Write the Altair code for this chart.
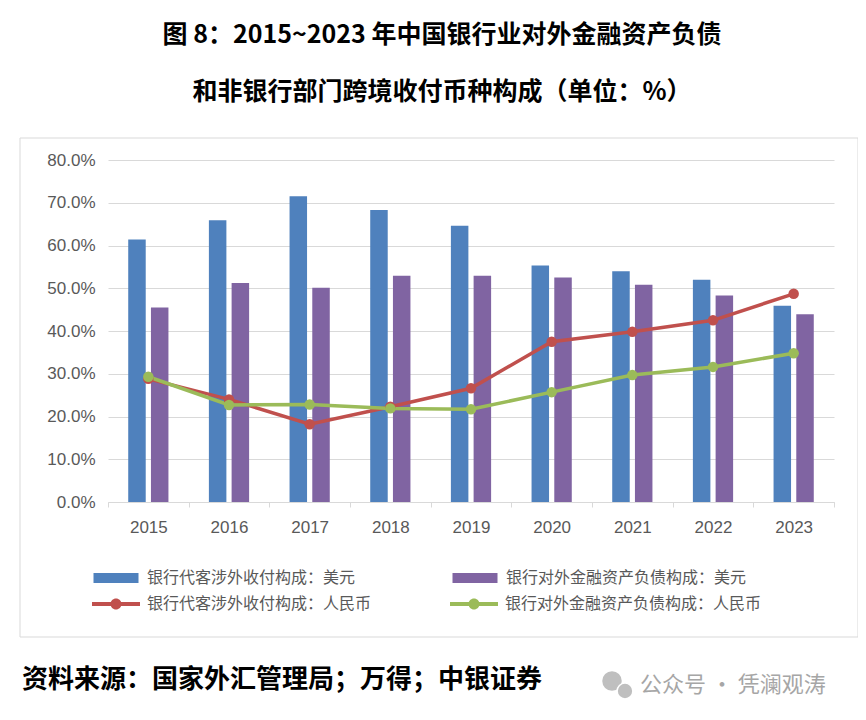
import pandas as pd
import altair as alt

# values (percent)
years = [2015, 2016, 2017, 2018, 2019, 2020, 2021, 2022, 2023]
usd_agent = [61.4, 65.9, 71.5, 68.3, 64.6, 55.3, 54.0, 52.0, 45.9]
usd_bank = [45.5, 51.2, 50.1, 52.9, 52.9, 52.5, 50.8, 48.3, 43.9]
rmb_agent = [28.8, 24.0, 18.2, 22.3, 26.6, 37.5, 39.8, 42.5, 48.7]
rmb_bank = [29.3, 22.7, 22.8, 21.9, 21.7, 25.7, 29.7, 31.6, 34.8]

bar_names = ["银行代客涉外收付构成：美元", "银行对外金融资产负债构成：美元"]
line_names = ["银行代客涉外收付构成：人民币", "银行对外金融资产负债构成：人民币"]
y_ticks = [0, 10, 20, 30, 40, 50, 60, 70, 80]

title_lines = ["图 8：2015~2023 年中国银行业对外金融资产负债",
               "和非银行部门跨境收付币种构成（单位：%）"]
source_text = "资料来源：国家外汇管理局；万得；中银证券"
mark_text = "公众号 · 凭澜观涛"

blue, purple, red, green = "#4f81bd", "#8064a2", "#c0504d", "#9bbb59"
grey_txt = "#595959"
cjk = "Noto Sans CJK SC"

bars = pd.DataFrame({
    "year": years * 2,
    "value": usd_agent + usd_bank,
    "series": [bar_names[0]] * 9 + [bar_names[1]] * 9,
})
lines = pd.DataFrame({
    "year": years * 2,
    "value": rmb_agent + rmb_bank,
    "series": [line_names[0]] * 9 + [line_names[1]] * 9,
})

x_enc = alt.X("year:O", title=None,
              scale=alt.Scale(paddingInner=0, paddingOuter=0),
              axis=alt.Axis(labelAngle=0, tickBand="extent", tickSize=5,
                            tickColor="#d9d9d9", domainColor="#d9d9d9",
                            labelFont="Liberation Sans", labelFontSize=17,
                            labelColor=grey_txt, labelPadding=12, grid=False))
y_enc = alt.Y("value:Q", title=None,
              scale=alt.Scale(domain=[0, 80]),
              axis=alt.Axis(values=y_ticks, domain=False, ticks=False,
                            labelExpr="format(datum.value, '.1f') + '%'",
                            labelFont="Liberation Sans", labelFontSize=17,
                            labelColor=grey_txt, labelPadding=13,
                            gridColor="#d9d9d9", gridWidth=1))

bar_legend = alt.Legend(orient="none", legendX=0, legendY=410,
                        direction="horizontal", columns=2, title=None,
                        symbolType="M-4.5,-1H4.5V1H-4.5Z",
                        symbolSize=100, symbolStrokeWidth=0,
                        labelFont=cjk, labelFontSize=16,
                        labelColor=grey_txt, labelOffset=23,
                        columnPadding=96, labelLimit=400, padding=0)
line_legend = alt.Legend(orient="none", legendX=0, legendY=436,
                         direction="horizontal", columns=2, title=None,
                         symbolType="M-4.8,-0.4H4.8V0.4H-4.8Z M1.1,0A1.1,1.1,0,1,1,-1.1,0A1.1,1.1,0,1,1,1.1,0Z",
                         symbolSize=100, symbolStrokeWidth=0,
                         labelFont=cjk, labelFontSize=16,
                         labelColor=grey_txt, labelOffset=23,
                         columnPadding=78, labelLimit=400, padding=0)

bar_chart = alt.Chart(bars).mark_bar().encode(
    x=x_enc, y=y_enc,
    xOffset=alt.XOffset("series:N", sort=bar_names,
                        scale=alt.Scale(paddingInner=0.23, paddingOuter=0.89)),
    color=alt.Color("series:N",
                    scale=alt.Scale(domain=bar_names, range=[blue, purple]),
                    legend=bar_legend),
)

line_chart = alt.Chart(lines).mark_line(strokeWidth=3.5).encode(
    x=x_enc, y=y_enc,
    stroke=alt.Stroke("series:N",
                      scale=alt.Scale(domain=line_names, range=[red, green]),
                      legend=line_legend),
)

dot_chart = alt.Chart(lines).mark_circle(size=110, opacity=1).encode(
    x=x_enc, y=y_enc,
    fill=alt.Fill("series:N",
                  scale=alt.Scale(domain=line_names, range=[red, green]),
                  legend=line_legend),
)

one = pd.DataFrame({"t": [source_text]})
frame = alt.Chart(one).mark_rect(fill="transparent", stroke="#d9d9d9", strokeWidth=1).encode(
    x=alt.value(-88), x2=alt.value(750), y=alt.value(-22), y2=alt.value(477))

source = alt.Chart(one).mark_text(align="left", baseline="middle", font=cjk,
                                  fontSize=26, fontWeight="bold", color="black").encode(
    text="t:N", x=alt.value(-86), y=alt.value(520))

wm = alt.Chart(pd.DataFrame({"t": [mark_text]})).mark_text(
    align="left", baseline="middle", font=cjk, fontSize=22, color="#a6a6a6").encode(
    text="t:N", x=alt.value(532), y=alt.value(525))
icon_a = alt.Chart(one).mark_circle(size=380, color="#bfbfbf", opacity=1).encode(
    x=alt.value(504), y=alt.value(521))
icon_b = alt.Chart(one).mark_circle(size=250, color="#bfbfbf", opacity=1,
                                    stroke="white", strokeWidth=1.5).encode(
    x=alt.value(517), y=alt.value(531))

chart = alt.layer(frame, bar_chart, line_chart, dot_chart, source, icon_a, icon_b, wm).properties(
    width=726, height=342,
    title=alt.Title(title_lines, font=cjk, fontSize=25, fontWeight="bold", color="black",
                    anchor="middle", lineHeight=57, dx=-29, offset=33),
    autosize=alt.AutoSizeParams(type="none"),
    padding={"left": 100, "top": 152, "right": 24, "bottom": 210},
).configure_view(stroke=None)

chart.save("out.html", embed_options={"renderer": "svg", "actions": False})
